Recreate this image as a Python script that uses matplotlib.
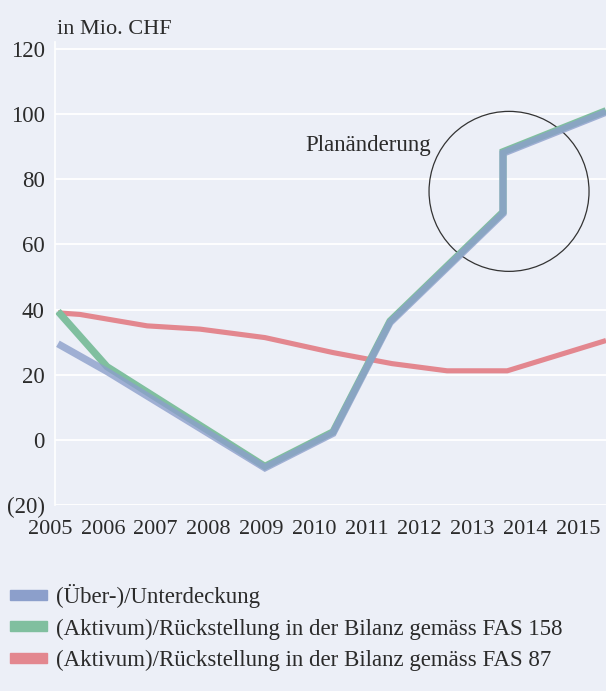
import matplotlib
matplotlib.use("Agg")
import matplotlib.pyplot as plt
import matplotlib.patches as mpatches
import matplotlib.transforms as mtransforms

BG    = "#eceff7"
BLUE  = "#8c9fcb"
GREEN = "#80bf9f"
RED   = "#e3878f"
TEXT  = "#2b2b2b"

plt.rcParams['font.family'] = ['Liberation Serif', 'DejaVu Serif']

# values (Mio. CHF)
x_deckung = [2005.15, 2006.08, 2009.07, 2010.36, 2011.44, 2013.58, 2013.58, 2015.53]
deckung   = [29.5, 21.0, -8.6, 2.0, 36.0, 69.5, 88.0, 100.6]
x_fas158  = [2005.15, 2006.08, 2009.07, 2010.36, 2011.44, 2013.58, 2013.58, 2015.53]
fas158    = [39.0, 22.0, -8.6, 2.0, 36.0, 69.5, 88.0, 100.6]
x_fas87   = [2005.15, 2005.57, 2006.84, 2007.84, 2009.07, 2010.36, 2011.48, 2012.52, 2013.66, 2015.53]
fas87     = [39.0, 38.5, 35.0, 34.0, 31.4, 26.8, 23.4, 21.2, 21.2, 30.5]

year_labels = ["2005", "2006", "2007", "2008", "2009", "2010",
               "2011", "2012", "2013", "2014", "2015"]
years = [2005, 2006, 2007, 2008, 2009, 2010, 2011, 2012, 2013, 2014, 2015]
y_ticks = [-20, 0, 20, 40, 60, 80, 100, 120]
y_labels = ["(20)", "0", "20", "40", "60", "80", "100", "120"]
series_names = ["(Über-)/Unterdeckung",
                "(Aktivum)/Rückstellung in der Bilanz gemäss FAS 158",
                "(Aktivum)/Rückstellung in der Bilanz gemäss FAS 87"]
change_label = "Planänderung"

FS = 16.5

fig = plt.figure(figsize=(6.06, 6.91), dpi=100, facecolor=BG)
ax = fig.add_axes([55/606, 1-505/691, 551/606, 462.5/691])
ax.set_facecolor(BG)
ax.set_xlim(2005.095, 2015.53)
ax.set_ylim(-20, 122)

for s in ['top', 'right', 'bottom']:
    ax.spines[s].set_visible(False)
ax.spines['left'].set_color("white")
ax.spines['left'].set_linewidth(1.2)
ax.set_yticks(y_ticks)
ax.set_yticklabels(y_labels)
ax.tick_params(axis='y', length=0, pad=7.5, labelsize=FS, labelcolor=TEXT)
ax.set_xticks([])
ax.grid(axis='y', color="white", linewidth=1.3)
ax.set_axisbelow(True)

# year labels sit as a plain row under the plot
lab_tr = mtransforms.blended_transform_factory(ax.transData, ax.transAxes)
for yr, lab in zip(years, year_labels):
    ax.text(yr, -0.052, lab, transform=lab_tr, ha='center', va='center',
            fontsize=FS - 0.5, color=TEXT, clip_on=False)

ax.text(0.003, 1.0 - (29 - 42.5)/462.5, "in Mio. CHF", transform=ax.transAxes,
        ha='left', va='center', fontsize=FS - 0.5, color=TEXT)

up = mtransforms.ScaledTranslation(0, 1.5/100, fig.dpi_scale_trans)
ax.plot(x_fas87, fas87, color=RED, lw=3.7, solid_capstyle='butt', solid_joinstyle='round')
ax.plot(x_fas158, fas158, color=GREEN, lw=5.2, solid_capstyle='butt',
        solid_joinstyle='miter', transform=ax.transData + up)
ax.plot(x_deckung, deckung, color=BLUE, lw=5.2, alpha=0.8, solid_capstyle='butt',
        solid_joinstyle='miter')

# circle around the plan change
cx = x_deckung[5]
cy = (deckung[5] + deckung[6]) / 2
circ_tr = fig.dpi_scale_trans + mtransforms.ScaledTranslation(cx, cy, ax.transData)
ax.add_patch(mpatches.Circle((0.06, -0.08), 0.80, transform=circ_tr, fill=False,
                             edgecolor="#333333", linewidth=0.9, clip_on=False))
ax.annotate(change_label, xy=(cx, cy), xytext=(-52, 27.5), textcoords='offset points',
            ha='right', va='center', fontsize=FS, color=TEXT)

handles = [mpatches.Patch(color=c, label=n) for c, n in zip([BLUE, GREEN, RED], series_names)]
fig.legend(handles=handles, loc='upper left', bbox_to_anchor=(10/606, 1-584/691),
           frameon=False, fontsize=FS, handlelength=1.6, handleheight=0.28,
           handletextpad=0.42, labelspacing=0.45, borderpad=0, borderaxespad=0,
           labelcolor=TEXT)

fig.savefig("out.png", dpi=100, facecolor=BG)
